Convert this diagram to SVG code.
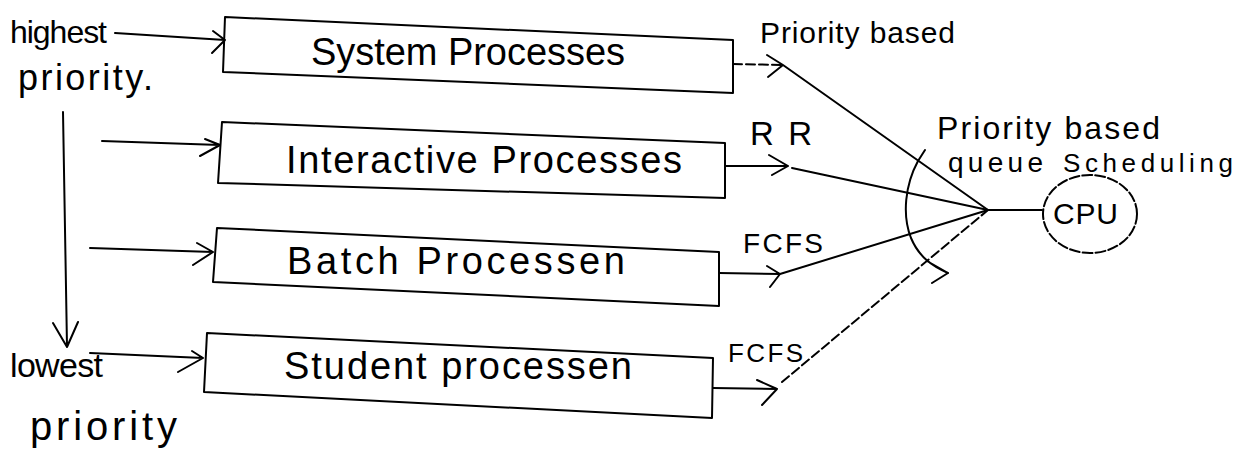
<svg xmlns="http://www.w3.org/2000/svg" width="1245" height="461" viewBox="0 0 1245 461">
<style>
  .ln{fill:none;stroke:#000;stroke-width:2;stroke-linecap:round;stroke-linejoin:round}
  .dash{stroke-dasharray:9 4}
  .box{fill:none;stroke:#000;stroke-width:2;stroke-linejoin:round}
  .t{font-family:"Liberation Sans","DejaVu Sans",sans-serif;fill:#000}
  .big{font-size:38px}
  .mid{font-size:30px}
</style>
<rect width="1245" height="461" fill="#fff"/>

<g id="labels-left">
  <text class="t" font-size="32" x="10" y="43" textLength="97" lengthAdjust="spacing">highest</text>
  <text class="t" font-size="36" x="18" y="90" textLength="135" lengthAdjust="spacing">priority.</text>
  <text class="t" font-size="34" x="10" y="377" textLength="93" lengthAdjust="spacing">lowest</text>
  <text class="t" font-size="40" x="30" y="440" textLength="147" lengthAdjust="spacing">priority</text>
</g>

<g id="node-system">
  <polygon class="box" points="225,17 733,40 733,93 223,72"/>
  <text class="t big" x="311" y="65" textLength="314" lengthAdjust="spacing">System Processes</text>
</g>
<g id="node-interactive">
  <polygon class="box" points="222,122 725,143 725,198 218,183"/>
  <text class="t big" x="286" y="173" textLength="396" lengthAdjust="spacing">Interactive Processes</text>
</g>
<g id="node-batch">
  <polygon class="box" points="217,228 719,252 719,306 213,282"/>
  <text class="t big" x="287" y="274" textLength="338" lengthAdjust="spacing">Batch Processen</text>
</g>
<g id="node-student">
  <polygon class="box" points="207,333 713,358 712,418 204,392"/>
  <text class="t big" x="284" y="379" textLength="348" lengthAdjust="spacing">Student processen</text>
</g>
<g id="node-cpu">
  <ellipse class="ln" cx="1090" cy="214" rx="47" ry="39" stroke-dasharray="10 3"/>
  <text class="t mid" x="1053" y="224" textLength="65" lengthAdjust="spacing">CPU</text>
</g>

<g id="connectors">
  <!-- left inputs -->
  <path class="ln" d="M115 33 L225 40 M213 31 L225 40 L212 53"/>
  <path class="ln" d="M102 141 L220 145 M205 139 L220 145 L200 156"/>
  <path class="ln" d="M90 248 L213 252 M197 243 L213 252 L193 265"/>
  <path class="ln" d="M90 353 L203 358 M192 351 L203 358 L178 372"/>
  <!-- priority axis -->
  <path class="ln" d="M63 112 L67 346 M53 323 L67 347 L78 322"/>
  <!-- right outputs -->
  <path class="ln dash" d="M733 64 L783 65"/>
  <path class="ln" d="M767 55 L783 65 L768 77 M783 65 L988 210"/>
  <path class="ln" d="M725 166 L788 166 M769 155 L788 166 L772 175 M792 168 L988 210"/>
  <path class="ln" d="M719 273 L780 274 M767 266 L780 274 L770 287 M780 274 L988 210"/>
  <path class="ln" d="M713 388 L777 389 M757 380 L777 389 L762 405"/>
  <path class="ln dash" d="M782 382 L988 210"/>
  <path class="ln" d="M988 210 L1042 210"/>
  <!-- arc -->
  <path class="ln" d="M925 150 L918 161 C905 185 902 215 911 238 C919 257 932 266 948 273 M927 261 L948 273 L932 283"/>
</g>

<g id="labels-right">
  <text class="t mid" x="760" y="43" textLength="195" lengthAdjust="spacing">Priority based</text>
  <text class="t" font-size="33" x="750" y="145" textLength="62" lengthAdjust="spacing">RR</text>
  <text class="t" font-size="28" x="743" y="253" textLength="80" lengthAdjust="spacing">FCFS</text>
  <text class="t" font-size="26" x="728" y="362" textLength="75" lengthAdjust="spacing">FCFS</text>
  <text class="t" font-size="32" x="937" y="139" textLength="223" lengthAdjust="spacing">Priority based</text>
  <text class="t" font-size="28" x="948" y="172" textLength="95" lengthAdjust="spacing">queue</text>
  <text class="t" x="1063" y="172" font-size="26" textLength="170" lengthAdjust="spacing" fill="#222">Scheduling</text>
</g>
</svg>
